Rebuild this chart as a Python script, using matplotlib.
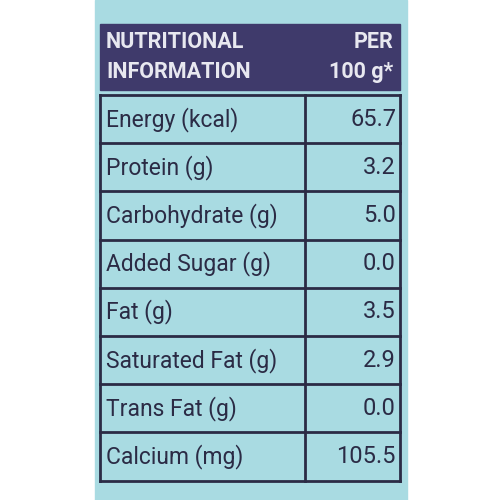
import matplotlib
matplotlib.use("Agg")
import matplotlib.pyplot as plt
from matplotlib.patches import Rectangle

header_left = ["NUTRITIONAL", "INFORMATION"]
header_right = ["PER", "100 g*"]
nutrients = ["Energy (kcal)", "Protein (g)", "Carbohydrate (g)", "Added Sugar (g)",
             "Fat (g)", "Saturated Fat (g)", "Trans Fat (g)", "Calcium (mg)"]
values = ["65.7", "3.2", "5.0", "0.0", "3.5", "2.9", "0.0", "105.5"]

blue = "#a9dbe2"
purple = "#3f3a6b"
ink = "#2b2b45"

fig = plt.figure(figsize=(5, 5), dpi=100)
ax = fig.add_axes([0, 0, 1, 1])
ax.set_xlim(0, 500); ax.set_ylim(500, 0); ax.axis("off")
fig.patch.set_facecolor("white")

ax.add_patch(Rectangle((95, 0), 312, 500, color=blue, zorder=0))
ax.add_patch(Rectangle((100, 24), 300, 66, color=purple, zorder=1))
hk = dict(color="#e8e8f0", fontsize=15.5, fontweight="bold", va="center",
          family="Roboto", fontstretch="condensed")
ax.text(106, 42, header_left[0], **hk)
ax.text(106, 72, header_left[1], **hk)
ax.text(393, 42, header_right[0], ha="right", **hk)
ax.text(393, 72, header_right[1], ha="right", **hk)

top, rh = 95, 48.2
n = len(nutrients)
for i in range(n + 1):
    y = top + i * rh
    ax.plot([100, 400], [y, y], color=ink, lw=2, zorder=2)
ax.plot([100, 100], [top, top + n * rh], color=ink, lw=2)
ax.plot([400, 400], [top, top + n * rh], color=ink, lw=2)
ax.plot([305, 305], [top, top + n * rh], color=ink, lw=2)
for i, (name, v) in enumerate(zip(nutrients, values)):
    yc = top + (i + 0.5) * rh
    ax.text(106, yc, name, color=ink, fontsize=16.5, va="center", family="Roboto")
    ax.text(396, yc, v, color=ink, fontsize=17, va="center", ha="right", family="Roboto")

fig.savefig("out.png", dpi=100)
